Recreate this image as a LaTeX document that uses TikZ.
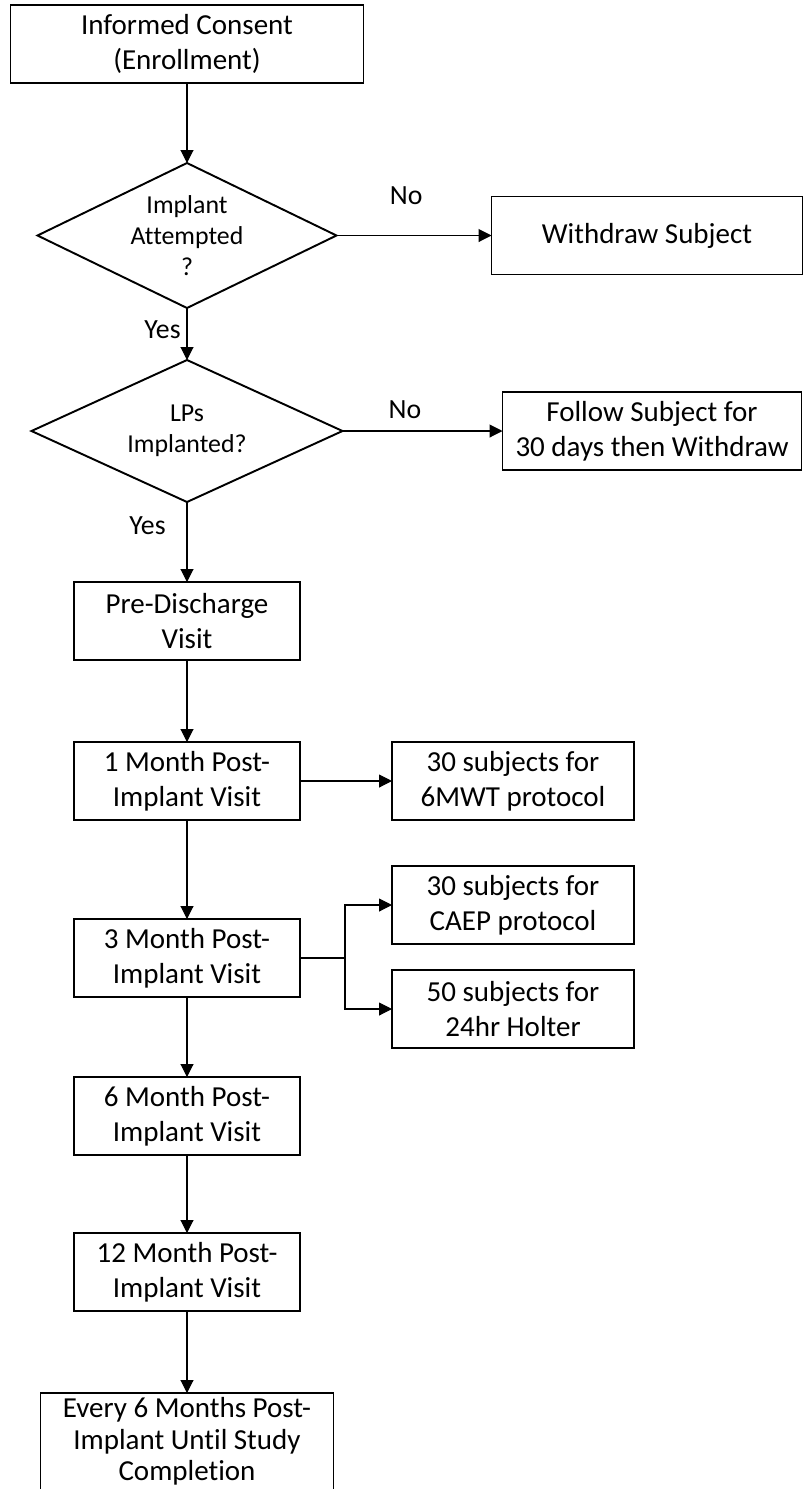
\documentclass[tikz,border=0pt]{standalone}
\usepackage{fontspec}
\setmainfont{Carlito}[Ligatures=NoCommon]
\usepackage{tikz}
\usetikzlibrary{positioning,arrows.meta,shapes.geometric}
\tikzset{
  paso/.style={rectangle, draw, line width=1.1pt, align=center,
    minimum width=4.52cm, minimum height=1.56cm, inner sep=2pt, outer sep=0pt,
    font=\fontsize{16.5}{19.9}\selectfont},
  lateral/.style={paso, minimum width=4.84cm},
  rombo/.style={diamond, draw, line width=1.1pt, aspect=2, inner sep=0pt, outer sep=0pt,
    align=center, font=\fontsize{14.7}{17.6}\selectfont},
  flecha/.style={-{Triangle[length=0.26cm, width=0.26cm]}, line width=0.6pt},
  etq/.style={font=\fontsize{15.8}{19}\selectfont},
}

\begin{document}
\begin{tikzpicture}[node distance=1.6cm and 1.84cm]
  \useasboundingbox (0,0) rectangle (16.08,-29.78);
  \node[paso, minimum width=7.06cm] (ic) at (3.74,-0.88) {Informed Consent\\(Enrollment)};
  \node[rombo, minimum width=5.98cm, minimum height=2.9cm, below=of ic] (imp) {Implant\\Attempted\\?};
  \node[paso, minimum width=6.22cm, right=3.1cm of imp] (retiro) {Withdraw Subject};
  \node[rombo, minimum width=6.22cm, minimum height=2.84cm, below=1.04cm of imp] (lps) {LPs\\Implanted?};
  \node[paso, minimum width=5.98cm, right=3.2cm of lps] (seguir) {Follow Subject for\\30 days then Withdraw};
  \node[paso, below=of lps] (pre) {Pre-Discharge\\Visit};
  \node[paso, below=1.64cm of pre] (m1) {1 Month Post-\\Implant Visit};
  \node[lateral, right=of m1] (mwt) {30 subjects for\\6MWT protocol};
  \node[paso, below=1.98cm of m1] (m3) {3 Month Post-\\Implant Visit};
  \node[lateral, right=of m3, yshift=1.06cm] (caep) {30 subjects for\\CAEP protocol};
  \node[lateral, below=0.52cm of caep] (holter) {50 subjects for\\24hr Holter};
  \node[paso, below=of m3] (m6) {6 Month Post-\\Implant Visit};
  \node[paso, below=1.56cm of m6] (m12) {12 Month Post-\\Implant Visit};
  \node[paso, minimum width=5.86cm, minimum height=0pt, inner ysep=2.5pt,
    font=\fontsize{16.5}{18}\selectfont, below=1.64cm of m12] (cada6)
    {Every 6 Months Post-\\Implant Until Study\\Completion\rule[-0.6cm]{0pt}{0pt}};
  \draw[flecha] (ic) -- (imp);
  \draw[flecha] (imp) -- (retiro) node[etq, pos=0.45, above=0.48cm] {No};
  \draw[flecha] (imp) -- (lps) node[etq, pos=0.42, left] {Yes};
  \draw[flecha] (lps) -- (seguir) node[etq, pos=0.39, above=0.12cm] {No};
  \draw[flecha] (lps) -- (pre) node[etq, pos=0.29, left=0.3cm] {Yes};
  \draw[flecha] (pre) -- (m1);
  \draw[flecha] (m1) -- (mwt);
  \draw[flecha] (m1) -- (m3);
  \draw[flecha] (m3.east) -- ++(0.9,0) |- (caep);
  \draw[flecha] (m3.east) -- ++(0.9,0) |- (holter);
  \draw[flecha] (m3) -- (m6);
  \draw[flecha] (m6) -- (m12);
  \draw[flecha] (m12) -- (cada6);
\end{tikzpicture}
\end{document}
